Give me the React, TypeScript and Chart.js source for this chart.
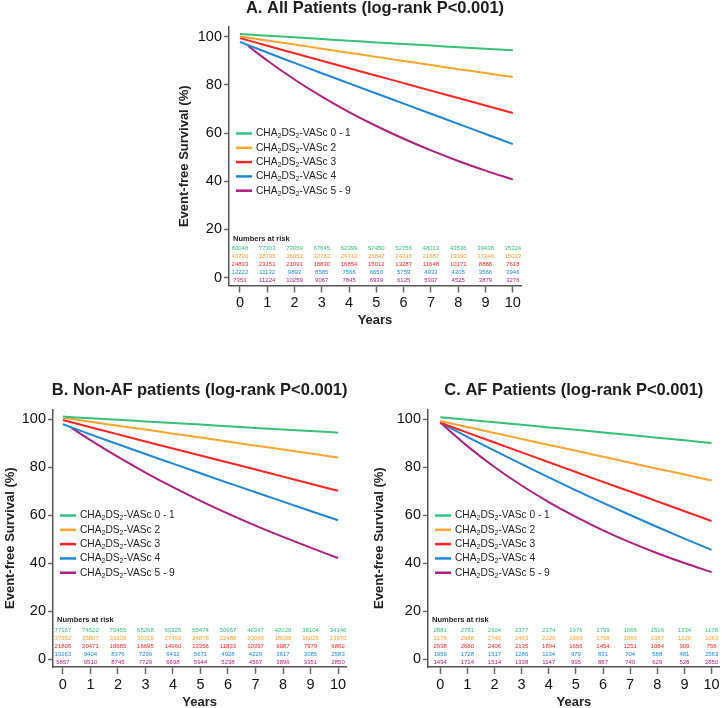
import React, { useEffect, useRef } from "react";
import { Chart, registerables } from "chart.js";

Chart.register(...registerables);

const FONT = '"Liberation Sans", Arial, Helvetica, sans-serif';

// ---------- data ----------
const YEARS = [0, 1, 2, 3, 4, 5, 6, 7, 8, 9, 10];
const YEARS_LATE = [0.3, 1, 2, 3, 4, 5, 6, 7, 8, 9, 10];
const Y_TICKS = [0, 20, 40, 60, 80, 100];
const GROUPS = ["0 - 1", "2", "3", "4", "5 - 9"];
const COLORS = ["#34c27a", "#ffa42e", "#ff2424", "#1f87d9", "#b01f80"];

// Panel A: all patients
const A_G01 = [101.1, 100.4, 99.7, 99.0, 98.3, 97.6, 96.9, 96.3, 95.6, 95.0, 94.3];
const A_G2 = [100.1, 98.4, 96.7, 95.0, 93.3, 91.6, 89.9, 88.2, 86.5, 84.9, 83.2];
const A_G3 = [99.4, 96.2, 93.1, 90.0, 86.9, 83.8, 80.7, 77.6, 74.5, 71.4, 68.3];
const A_G4 = [97.8, 93.4, 89.1, 84.8, 80.6, 76.4, 72.2, 68.0, 63.8, 59.6, 55.4];
const A_G59 = [96.1, 90.1, 82.2, 75.1, 68.7, 62.9, 57.6, 52.8, 48.4, 44.4, 40.7];

const A_RISK_G01 = [80048, 77303, 73059, 67645, 62399, 57450, 52756, 48013, 43536, 39438, 35324];
const A_RISK_G2 = [40730, 38795, 36053, 32782, 29713, 26847, 24246, 21687, 19390, 17246, 15033];
const A_RISK_G3 = [24833, 23151, 21091, 18830, 16854, 15012, 13287, 11648, 10171, 8888, 7618];
const A_RISK_G4 = [12222, 11132, 9893, 8585, 7566, 6650, 5759, 4933, 4205, 3566, 2946];
const A_RISK_G59 = [7351, 11224, 10259, 9067, 7845, 6939, 6125, 5307, 4525, 3879, 3276];

// Panel B: non-AF patients
const B_G01 = [101.0, 100.3, 99.7, 99.0, 98.3, 97.7, 97.0, 96.3, 95.6, 95.0, 94.3];
const B_G2 = [100.5, 98.9, 97.2, 95.6, 93.9, 92.3, 90.6, 88.9, 87.3, 85.6, 84.0];
const B_G3 = [99.6, 96.6, 93.6, 90.6, 87.7, 84.8, 81.9, 79.0, 76.0, 73.0, 70.1];
const B_G4 = [97.8, 93.6, 89.5, 85.4, 81.4, 77.4, 73.4, 69.5, 65.6, 61.7, 57.8];
const B_G59 = [96.4, 91.2, 84.2, 77.7, 71.6, 65.9, 60.6, 55.6, 50.9, 46.4, 42.1];

const B_RISK_G01 = [77167, 74522, 70455, 65268, 60225, 55474, 50957, 46347, 42020, 38104, 34146];
const B_RISK_G2 = [37552, 35807, 33308, 30319, 27493, 24878, 22488, 20068, 18008, 16025, 13970];
const B_RISK_G3 = [21895, 20471, 18685, 16695, 14960, 13356, 11833, 10397, 9087, 7979, 6862];
const B_RISK_G4 = [10263, 9404, 8376, 7299, 6432, 5671, 4928, 4229, 3617, 3085, 2583];
const B_RISK_G59 = [5857, 9510, 8745, 7729, 6698, 5944, 5238, 4567, 3896, 3351, 2850];

// Panel C: AF patients
const C_G01 = [100.7, 99.7, 98.6, 97.6, 96.5, 95.5, 94.4, 93.3, 92.2, 91.1, 90.0];
const C_G2 = [99.2, 96.7, 94.2, 91.7, 89.2, 86.8, 84.3, 81.8, 79.3, 76.9, 74.4];
const C_G3 = [98.5, 94.3, 90.2, 86.1, 82.0, 77.9, 73.8, 69.8, 65.7, 61.6, 57.5];
const C_G4 = [98.5, 92.6, 86.8, 81.2, 75.7, 70.3, 65.1, 60.0, 55.0, 50.2, 45.5];
const C_G59 = [98.5, 88.7, 80.0, 72.3, 65.4, 59.2, 53.6, 48.6, 44.1, 40.0, 36.2];

const C_RISK_G01 = [2881, 2781, 2604, 2377, 2174, 1976, 1799, 1666, 1516, 1334, 1178];
const C_RISK_G2 = [3178, 2988, 2745, 2463, 2220, 1969, 1758, 1569, 1387, 1220, 1063];
const C_RISK_G3 = [2938, 2680, 2406, 2135, 1894, 1656, 1454, 1251, 1084, 909, 756];
const C_RISK_G4 = [1959, 1728, 1517, 1286, 1134, 979, 831, 704, 588, 481, 2563];
const C_RISK_G59 = [1494, 1714, 1514, 1338, 1147, 995, 887, 740, 629, 528, 2850];

const TITLES = [
  "A. All Patients (log-rank P<0.001)",
  "B. Non-AF patients (log-rank P<0.001)",
  "C. AF Patients (log-rank P<0.001)",
];

// ---------- layout ----------
type PanelCfg = {
  title: string;
  left: number;
  top: number;
  width: number;
  height: number;
  pad: { top: number; right: number; bottom: number; left: number };
  yAxisWidth: number;
  xAxisHeight: number;
  yTitlePad: number;
  xTitlePad: number;
  xMin: number;
  xMax: number;
  curves: number[][];
  curveXs: number[][];
  risk: number[][];
};

const PANELS: PanelCfg[] = [
  {
    title: TITLES[0],
    left: 160, top: 0, width: 380, height: 335,
    pad: { top: 27, right: 19, bottom: 4.5, left: 0 },
    yAxisWidth: 69, xAxisHeight: 45, yTitlePad: 16.2, xTitlePad: 2.2,
    xMin: -0.4, xMax: 10.3,
    curves: [A_G01, A_G2, A_G3, A_G4, A_G59],
    curveXs: [YEARS, YEARS, YEARS, YEARS, YEARS_LATE],
    risk: [A_RISK_G01, A_RISK_G2, A_RISK_G3, A_RISK_G4, A_RISK_G59],
  },
  {
    title: TITLES[1],
    left: 0, top: 360, width: 360, height: 360,
    pad: { top: 49.4, right: 13.7, bottom: 0, left: 0 },
    yAxisWidth: 53, xAxisHeight: 53, yTitlePad: 2.2, xTitlePad: 10.2,
    xMin: -0.36, xMax: 10.3,
    curves: [B_G01, B_G2, B_G3, B_G4, B_G59],
    curveXs: [YEARS, YEARS, YEARS, YEARS, YEARS_LATE],
    risk: [B_RISK_G01, B_RISK_G2, B_RISK_G3, B_RISK_G4, B_RISK_G59],
  },
  {
    title: TITLES[2],
    left: 360, top: 360, width: 362, height: 360,
    pad: { top: 49.4, right: 2.3, bottom: 0, left: 0 },
    yAxisWidth: 68, xAxisHeight: 53, yTitlePad: 11.2, xTitlePad: 10.2,
    xMin: -0.45, xMax: 10.3,
    curves: [C_G01, C_G2, C_G3, C_G4, C_G59],
    curveXs: [YEARS, YEARS, YEARS, YEARS, YEARS],
    risk: [C_RISK_G01, C_RISK_G2, C_RISK_G3, C_RISK_G4, C_RISK_G59],
  },
];

const RISK_ROW_OFFSETS = [-29, -21, -13, -5, 3];
const RISK_HEADER_OFFSET = -39;

function drawLegendLabel(ctx: CanvasRenderingContext2D, x: number, y: number, group: string) {
  const big = `10.2px ${FONT}`;
  const small = `7px ${FONT}`;
  const parts: [string, boolean][] = [
    ["CHA", false], ["2", true], ["DS", false], ["2", true], [`-VASc ${group}`, false],
  ];
  let cx = x;
  ctx.textAlign = "left";
  ctx.textBaseline = "middle";
  for (const [t, sub] of parts) {
    ctx.font = sub ? small : big;
    ctx.fillText(t, cx, sub ? y + 3 : y);
    cx += ctx.measureText(t).width;
  }
}

function makeOverlay(cfg: PanelCfg) {
  return {
    id: "overlay",
    afterDraw(chart: any) {
      const { ctx, chartArea } = chart;
      const xs = chart.scales.x;
      const ys = chart.scales.y;
      ctx.save();
      // title
      ctx.fillStyle = "#1e1e1e";
      ctx.font = `bold 16.5px ${FONT}`;
      ctx.textAlign = "center";
      ctx.textBaseline = "alphabetic";
      ctx.fillText(cfg.title, (chartArea.left + chartArea.right) / 2, chartArea.top - 14.3);

      // legend
      const ly0 = ys.getPixelForValue(60) + 0.5;
      GROUPS.forEach((g, i) => {
        const y = ly0 + i * 14.3;
        ctx.strokeStyle = COLORS[i];
        ctx.lineWidth = 2.5;
        ctx.beginPath();
        ctx.moveTo(chartArea.left + 7, y);
        ctx.lineTo(chartArea.left + 23, y);
        ctx.stroke();
        ctx.fillStyle = "#222";
        drawLegendLabel(ctx, chartArea.left + 27, y, g);
      });

      // numbers at risk
      const y0 = ys.getPixelForValue(0);
      ctx.fillStyle = "#222";
      ctx.font = `bold 7.5px ${FONT}`;
      ctx.textAlign = "left";
      ctx.textBaseline = "middle";
      ctx.fillText("Numbers at risk", chartArea.left + 4, y0 + RISK_HEADER_OFFSET);
      ctx.font = `6px ${FONT}`;
      ctx.textAlign = "center";
      cfg.risk.forEach((row, g) => {
        ctx.fillStyle = COLORS[g];
        row.forEach((n, i) => {
          ctx.fillText(String(n), xs.getPixelForValue(YEARS[i]), y0 + RISK_ROW_OFFSETS[g]);
        });
      });
      ctx.restore();
    },
  };
}

function Panel({ cfg }: { cfg: PanelCfg }) {
  const ref = useRef<HTMLCanvasElement>(null);
  useEffect(() => {
    const canvas = ref.current!;
    const datasets = cfg.curves.map((vals, g) => ({
      label: `CHA2DS2-VASc ${GROUPS[g]}`,
      data: vals.map((v, i) => ({ x: cfg.curveXs[g][i], y: v })),
      borderColor: COLORS[g],
      backgroundColor: COLORS[g],
      borderWidth: 2,
      pointRadius: 0,
      cubicInterpolationMode: "monotone" as const,
      fill: false,
    }));
    const chart = new Chart(canvas, {
      type: "line",
      data: { datasets },
      plugins: [makeOverlay(cfg)],
      options: {
        animation: false,
        responsive: false,
        devicePixelRatio: 1,
        layout: { padding: cfg.pad },
        plugins: {
          legend: { display: false },
          tooltip: { enabled: false },
          title: { display: false },
        },
        scales: {
          x: {
            type: "linear",
            min: cfg.xMin,
            max: cfg.xMax,
            afterBuildTicks: (s: any) => {
              s.ticks = YEARS.map((v) => ({ value: v }));
            },
            afterFit: (s: any) => {
              s.height = cfg.xAxisHeight;
            },
            grid: {
              display: true,
              drawOnChartArea: false,
              drawTicks: true,
              tickLength: 7,
              tickWidth: 1.5,
              tickColor: "#6a6a6a",
            },
            border: { display: true, color: "#555", width: 1.5 },
            ticks: {
              font: { family: FONT, size: 14.5 },
              color: "#111",
              padding: 2,
              maxRotation: 0,
              autoSkip: false,
            },
            title: {
              display: true,
              text: "Years",
              font: { family: FONT, size: 13, weight: "bold" },
              color: "#222",
              padding: { top: 0, bottom: cfg.xTitlePad },
            },
          },
          y: {
            type: "linear",
            min: -3.3,
            max: 104,
            afterBuildTicks: (s: any) => {
              s.ticks = Y_TICKS.map((v) => ({ value: v }));
            },
            afterFit: (s: any) => {
              s.width = cfg.yAxisWidth;
            },
            grid: {
              display: true,
              drawOnChartArea: false,
              drawTicks: true,
              tickLength: 5,
              tickWidth: 1.5,
              tickColor: "#6a6a6a",
            },
            border: { display: true, color: "#555", width: 1.5 },
            ticks: {
              font: { family: FONT, size: 14.5 },
              color: "#111",
              padding: 2,
              autoSkip: false,
            },
            title: {
              display: true,
              text: "Event-free Survival (%)",
              font: { family: FONT, size: 13, weight: "bold" },
              color: "#222",
              padding: { top: cfg.yTitlePad, bottom: 0 },
            },
          },
        },
      } as any,
    });
    return () => chart.destroy();
  }, [cfg]);
  return (
    <canvas
      ref={ref}
      width={cfg.width}
      height={cfg.height}
      style={{
        position: "absolute",
        left: cfg.left,
        top: cfg.top,
        width: cfg.width,
        height: cfg.height,
      }}
    />
  );
}

export default function App() {
  return (
    <div
      style={{
        position: "absolute",
        left: 0,
        top: 0,
        width: 722,
        height: 708,
        overflow: "hidden",
        background: "#ffffff",
      }}
    >
      {PANELS.map((p, i) => (
        <Panel key={i} cfg={p} />
      ))}
    </div>
  );
}
